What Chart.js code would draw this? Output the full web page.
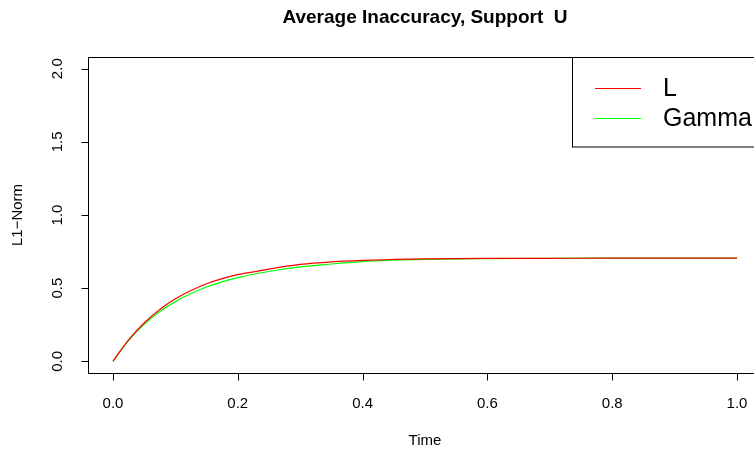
<!DOCTYPE html>
<html>
<head>
<meta charset="utf-8">
<script src="https://cdn.jsdelivr.net/npm/chart.js@4.4.0/dist/chart.umd.min.js"></script>
<style>
html,body{margin:0;padding:0;background:#fff;overflow:hidden;width:754px;height:450px;}
#wrap{width:800px;height:450px;}
</style>
</head>
<body>
<div id="wrap"><canvas id="grafica" width="800" height="450"></canvas></div>
<script>
// valores
var tiempos = [0, 0.025, 0.05, 0.075, 0.1, 0.125, 0.15, 0.175, 0.2, 0.25, 0.3, 0.35, 0.4, 0.45, 0.5, 0.6, 0.7, 0.8, 0.9, 1.0];
var serieL = [0, 0.147, 0.262, 0.354, 0.427, 0.484, 0.530, 0.565, 0.592, 0.630, 0.662, 0.680, 0.690, 0.696, 0.700, 0.703, 0.704, 0.705, 0.705, 0.705];
var serieGamma = [0, 0.142, 0.252, 0.340, 0.408, 0.463, 0.508, 0.543, 0.572, 0.614, 0.645, 0.665, 0.681, 0.691, 0.697, 0.702, 0.704, 0.705, 0.705, 0.705];
var ticksX = [0, 0.2, 0.4, 0.6, 0.8, 1.0];
var ticksY = [0, 0.5, 1.0, 1.5, 2.0];
var nombres = ["L", "Gamma"];
var colores = ["#FF0000", "#00FF00"];
var titulo = "Average Inaccuracy, Support  U";

function puntos(ys){
  var p = [];
  for (var i = 0; i < tiempos.length; i++) p.push({x: tiempos[i], y: ys[i]});
  return p;
}

var fuente = "'Liberation Sans', Arial, sans-serif";

var ejesR = {
  id: 'ejesR',
  afterDraw: function(chart){
    var ctx = chart.ctx, a = chart.chartArea;
    var sx = chart.scales.x, sy = chart.scales.y;
    ctx.save();
    ctx.strokeStyle = '#000';
    ctx.lineWidth = 1;
    // caja
    ctx.strokeRect(Math.round(a.left) + 0.5, Math.round(a.top) + 0.5, Math.round(a.right - a.left), Math.round(a.bottom - a.top));
    ctx.fillStyle = '#000';
    ctx.font = '15px ' + fuente;
    // eje x
    ctx.beginPath();
    var yb = Math.round(a.bottom) + 0.5;
    ctx.moveTo(sx.getPixelForValue(ticksX[0]), yb);
    ctx.lineTo(sx.getPixelForValue(ticksX[ticksX.length - 1]), yb);
    ticksX.forEach(function(t){
      var px = Math.round(sx.getPixelForValue(t)) + 0.5;
      ctx.moveTo(px, yb); ctx.lineTo(px, yb + 7);
    });
    ctx.stroke();
    ctx.textAlign = 'center'; ctx.textBaseline = 'middle';
    ticksX.forEach(function(t){
      ctx.fillText(t.toFixed(1), sx.getPixelForValue(t), 404);
    });
    ctx.fillText('Time', (a.left + a.right) / 2, 441);
    // eje y
    var xl = Math.round(a.left) + 0.5;
    ctx.beginPath();
    ctx.moveTo(xl, sy.getPixelForValue(ticksY[0]));
    ctx.lineTo(xl, sy.getPixelForValue(ticksY[ticksY.length - 1]));
    ticksY.forEach(function(t){
      var py = Math.round(sy.getPixelForValue(t)) + 0.5;
      ctx.moveTo(xl, py); ctx.lineTo(xl - 7, py);
    });
    ctx.stroke();
    ticksY.forEach(function(t){
      ctx.save();
      ctx.translate(58, sy.getPixelForValue(t));
      ctx.rotate(-Math.PI / 2);
      ctx.fillText(t.toFixed(1), 0, 0);
      ctx.restore();
    });
    ctx.save();
    ctx.translate(18, (a.top + a.bottom) / 2);
    ctx.rotate(-Math.PI / 2);
    ctx.fillText('L1\u2212Norm', 0, 0);
    ctx.restore();
    // titulo
    ctx.font = 'bold 19px ' + fuente;
    ctx.fillText(titulo, (a.left + a.right) / 2, 18);
    // leyenda
    var lx = 572.5, ly = Math.round(a.top) + 0.5;
    ctx.fillStyle = '#fff';
    ctx.fillRect(lx, ly, a.right - lx, 147 - ly);
    ctx.strokeRect(lx, ly, Math.round(a.right) - lx, 147 - ly);
    ctx.font = '25px ' + fuente;
    ctx.textAlign = 'left';
    for (var i = 0; i < nombres.length; i++) {
      var yy = 88 + i * 30;
      ctx.strokeStyle = colores[i];
      ctx.beginPath(); ctx.moveTo(595, yy + 0.5); ctx.lineTo(641, yy + 0.5); ctx.stroke();
      ctx.fillStyle = '#000';
      ctx.fillText(nombres[i], 663, yy + 1);
    }
    ctx.restore();
  }
};

var graf = new Chart(document.getElementById('grafica'), {
  type: 'line',
  data: {
    datasets: [
      { label: nombres[0], data: puntos(serieL), borderColor: colores[0], borderWidth: 1.2, pointRadius: 0, fill: false, cubicInterpolationMode: 'monotone' },
      { label: nombres[1], data: puntos(serieGamma), borderColor: colores[1], borderWidth: 1.2, pointRadius: 0, fill: false, cubicInterpolationMode: 'monotone' }
    ]
  },
  options: {
    responsive: false,
    animation: false,
    layout: { padding: { left: 88, right: 38, top: 57, bottom: 77 } },
    plugins: { legend: { display: false }, title: { display: false }, tooltip: { enabled: false } },
    scales: {
      x: { type: 'linear', min: -0.04, max: 1.04, display: false },
      y: { type: 'linear', min: -0.08, max: 2.08, display: false }
    }
  },
  plugins: [ejesR]
});
</script>
</body>
</html>
